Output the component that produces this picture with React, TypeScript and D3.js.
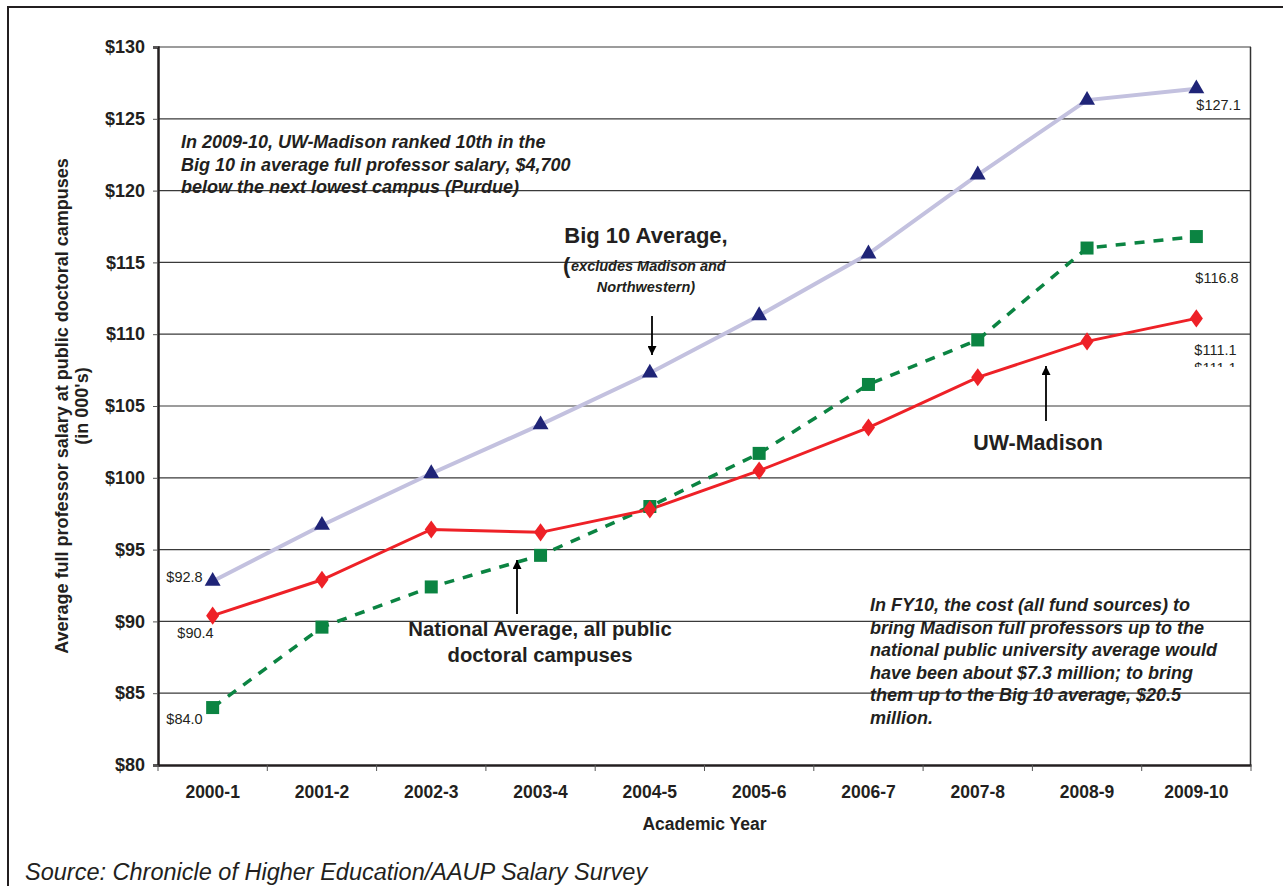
import { useEffect, useRef } from "react"
import * as d3 from "d3"

const years = ["2000-1", "2001-2", "2002-3", "2003-4", "2004-5", "2005-6", "2006-7", "2007-8", "2008-9", "2009-10"]
const big10 = [92.8, 96.7, 100.3, 103.7, 107.3, 111.3, 115.6, 121.1, 126.3, 127.1]
const madison = [90.4, 92.9, 96.4, 96.2, 97.8, 100.5, 103.5, 107.0, 109.5, 111.1]
const national = [84.0, 89.6, 92.4, 94.6, 98.0, 101.7, 106.5, 109.6, 116.0, 116.8]
const yTicks = [80, 85, 90, 95, 100, 105, 110, 115, 120, 125, 130]

const topNote = [
  "In 2009-10, UW-Madison ranked 10th in the",
  "Big 10 in average full professor salary, $4,700",
  "below the next lowest campus (Purdue)",
]
const costNote = [
  "In FY10, the cost (all fund sources) to",
  "bring Madison full professors up to the",
  "national public university average would",
  "have been about $7.3 million; to bring",
  "them up to the Big 10 average, $20.5",
  "million.",
]

const FONT = "Liberation Sans, Arial, sans-serif"
const INK = "#231f20"

export default function App() {
  const svgRef = useRef<SVGSVGElement>(null)

  useEffect(() => {
    if (!svgRef.current) return
    const svg = d3.select(svgRef.current)
    svg.selectAll("*").remove()

    const width = 1283
    const height = 886
    const left = 158, right = 1251, top = 47, bottom = 765

    const x = d3.scaleBand<string>().domain(years).range([left, right]).padding(0)
    const cx = (i: number) => (x(years[i]) as number) + x.bandwidth() / 2
    const y = d3.scaleLinear().domain([80, 130]).range([bottom, top])

    svg.attr("width", width).attr("height", height)
    svg.append("rect").attr("width", width).attr("height", height).attr("fill", "#fff")

    // outer frame (cropped on right / bottom)
    svg.append("rect")
      .attr("x", 8).attr("y", 7)
      .attr("width", 1300).attr("height", 900)
      .attr("fill", "none").attr("stroke", INK).attr("stroke-width", 2)

    const defs = svg.append("defs")
    defs.append("marker")
      .attr("id", "arrow")
      .attr("viewBox", "0 0 10 10")
      .attr("refX", 10).attr("refY", 5)
      .attr("markerWidth", 5).attr("markerHeight", 5)
      .attr("markerUnits", "strokeWidth")
      .attr("orient", "auto")
      .append("path").attr("d", "M0,0 L10,5 L0,10 z").attr("fill", "#000")
    defs.append("clipPath").attr("id", "lblclip")
      .append("rect").attr("x", 1150).attr("y", 340).attr("width", 100).attr("height", 27)

    // grid lines
    svg.append("g").selectAll("line")
      .data(yTicks.filter(t => t > 80))
      .join("line")
      .attr("x1", left).attr("x2", right)
      .attr("y1", d => y(d)).attr("y2", d => y(d))
      .attr("stroke", "#3a3a3a").attr("stroke-width", 1.2)

    // plot frame right side
    svg.append("line")
      .attr("x1", right - 0.5).attr("x2", right - 0.5)
      .attr("y1", top).attr("y2", bottom)
      .attr("stroke", "#333").attr("stroke-width", 1.5)

    // y axis
    const yAxis = d3.axisLeft(y).tickValues(yTicks).tickSize(5).tickPadding(8).tickFormat(d => `$${d}`)
    const ya = svg.append("g").attr("transform", `translate(${left},0)`).call(yAxis)
    ya.select(".domain").attr("stroke", INK).attr("stroke-width", 2.5)
    ya.selectAll(".tick line").attr("stroke", "#555")
    ya.selectAll("text")
      .attr("fill", INK).style("font-family", FONT).style("font-size", "18px").style("font-weight", "bold")

    // x axis
    const xAxis = d3.axisBottom(x).tickSize(0).tickPadding(21)
    const xa = svg.append("g").attr("transform", `translate(0,${bottom})`).call(xAxis)
    xa.select(".domain").attr("stroke", INK).attr("stroke-width", 2.5)
    xa.selectAll("text")
      .attr("fill", INK).style("font-family", FONT).style("font-size", "17.5px").style("font-weight", "bold")
    svg.append("g").selectAll("line")
      .data(years.concat(["end"]))
      .join("line")
      .attr("x1", (d, i) => left + i * x.bandwidth())
      .attr("x2", (d, i) => left + i * x.bandwidth())
      .attr("y1", bottom).attr("y2", bottom + 6)
      .attr("stroke", "#555").attr("stroke-width", 1)

    svg.append("text")
      .attr("x", (left + right) / 2).attr("y", 830)
      .attr("text-anchor", "middle").attr("fill", INK)
      .style("font-family", FONT).style("font-size", "17.5px").style("font-weight", "bold")
      .text("Academic Year")

    const yt = svg.append("text")
      .attr("transform", `translate(68,${(top + bottom) / 2}) rotate(-90)`)
      .attr("text-anchor", "middle").attr("fill", INK)
      .style("font-family", FONT).style("font-size", "18px").style("font-weight", "bold")
    yt.append("tspan").attr("x", 0).attr("dy", 0).text("Average full professor salary at public doctoral campuses")
    yt.append("tspan").attr("x", 0).attr("dy", 20).text("(in 000's)")

    const line = d3.line<number>().x((d, i) => cx(i)).y(d => y(d))

    // Big 10
    svg.append("path").datum(big10).attr("d", line)
      .attr("fill", "none").attr("stroke", "#c3c1df").attr("stroke-width", 4)
    // National
    svg.append("path").datum(national).attr("d", line)
      .attr("fill", "none").attr("stroke", "#0b8442").attr("stroke-width", 3.5)
      .attr("stroke-dasharray", "10,9")
    // Madison
    svg.append("path").datum(madison).attr("d", line)
      .attr("fill", "none").attr("stroke", "#ee2127").attr("stroke-width", 3)

    const tri = d3.symbol().type(d3.symbolTriangle).size(110)
    svg.append("g").selectAll("path").data(big10).join("path")
      .attr("d", tri)
      .attr("transform", (d, i) => `translate(${cx(i)},${y(d)})`)
      .attr("fill", "#1f2477")

    svg.append("g").selectAll("rect").data(national).join("rect")
      .attr("x", (d, i) => cx(i) - 6.5).attr("y", d => y(d) - 6.5)
      .attr("width", 13).attr("height", 13)
      .attr("fill", "#0b8442")

    const dia = d3.symbol().type(d3.symbolDiamond).size(95)
    svg.append("g").selectAll("path").data(madison).join("path")
      .attr("d", dia)
      .attr("transform", (d, i) => `translate(${cx(i)},${y(d)}) scale(1.25,1)`)
      .attr("fill", "#ee2127")

    // value labels
    const last = years.length - 1
    const valLabels = [
      { v: big10[0], i: 0, dx: -10, dy: 1, anchor: "end" },
      { v: madison[0], i: 0, dx: 1, dy: 22, anchor: "end" },
      { v: national[0], i: 0, dx: -10, dy: 16, anchor: "end" },
      { v: big10[last], i: last, dx: 0, dy: 21, anchor: "start" },
      { v: national[last], i: last, dx: -1, dy: 46, anchor: "start" },
      { v: madison[last], i: last, dx: -2, dy: 37, anchor: "start" },
    ]
    svg.append("g").selectAll("text").data(valLabels).join("text")
      .attr("x", d => cx(d.i) + d.dx).attr("y", d => y(d.v) + d.dy)
      .attr("text-anchor", d => d.anchor)
      .attr("fill", INK)
      .style("font-family", FONT).style("font-size", "14.5px")
      .text(d => `$${d.v.toFixed(1)}`)
    // clipped duplicate label under $111.1
    svg.append("text")
      .attr("x", cx(last) - 2).attr("y", y(madison[last]) + 55)
      .attr("clip-path", "url(#lblclip)")
      .attr("fill", INK)
      .style("font-family", FONT).style("font-size", "14.5px")
      .text(`$${madison[last].toFixed(1)}`)

    // annotations
    const note = (lines: string[], x0: number, y0: number) => {
      const t = svg.append("text").attr("fill", INK)
        .style("font-family", FONT).style("font-size", "18px")
        .style("font-weight", "bold").style("font-style", "italic")
      lines.forEach((l, k) => t.append("tspan").attr("x", x0).attr("y", y0 + k * 22.6).text(l))
    }
    note(topNote, 181, 148)
    note(costNote, 870, 611)

    const label = (txt: string, x0: number, y0: number, size: number) =>
      svg.append("text").attr("x", x0).attr("y", y0)
        .attr("text-anchor", "middle").attr("fill", INK)
        .style("font-family", FONT).style("font-size", `${size}px`).style("font-weight", "bold")
        .text(txt)

    label("Big 10 Average,", 646, 243, 22)
    svg.append("text").attr("x", 563).attr("y", 273).attr("fill", INK)
      .style("font-family", FONT).style("font-size", "22px").style("font-weight", "bold").text("(")
    svg.append("text").attr("x", 571).attr("y", 271).attr("fill", INK)
      .style("font-family", FONT).style("font-size", "14.5px").style("font-weight", "bold").style("font-style", "italic")
      .text("excludes Madison and")
    svg.append("text").attr("x", 646).attr("y", 292).attr("text-anchor", "middle").attr("fill", INK)
      .style("font-family", FONT).style("font-size", "14.5px").style("font-weight", "bold").style("font-style", "italic")
      .text("Northwestern)")

    label("UW-Madison", 1038, 450, 21.5)
    label("National Average, all public", 540, 636, 20.3)
    label("doctoral campuses", 540, 662, 20.3)

    // arrows
    const arrow = (x0: number, y1: number, y2: number) =>
      svg.append("line").attr("x1", x0).attr("x2", x0).attr("y1", y1).attr("y2", y2)
        .attr("stroke", "#000").attr("stroke-width", 1.8).attr("marker-end", "url(#arrow)")
    arrow(652, 316, 355)
    arrow(1046, 421, 366)
    arrow(517, 614, 560)

    svg.append("text").attr("x", 25).attr("y", 880).attr("fill", INK)
      .style("font-family", FONT).style("font-size", "23.5px").style("font-style", "italic")
      .text("Source: Chronicle of Higher Education/AAUP Salary Survey")
  }, [])

  return (
    <div style={{ position: "absolute", left: 0, top: 0 }}>
      <svg ref={svgRef} style={{ display: "block" }} />
    </div>
  )
}
